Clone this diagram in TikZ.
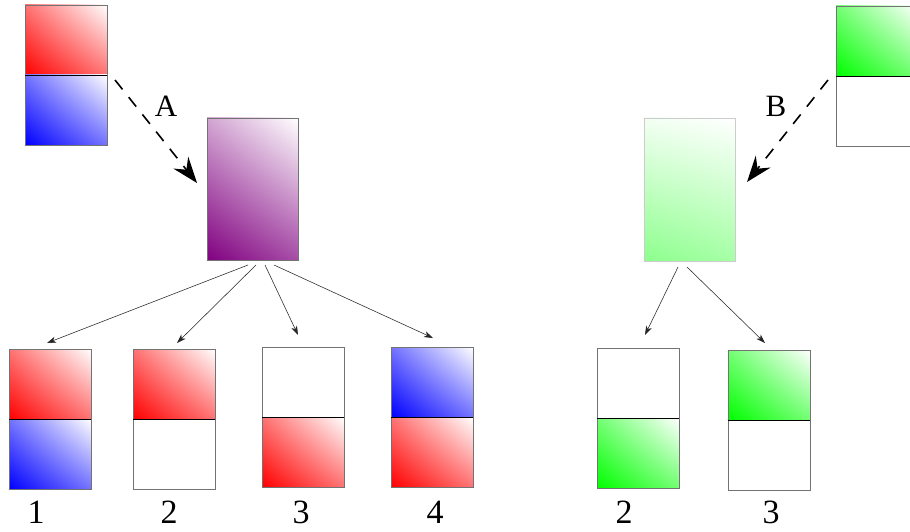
\documentclass[tikz,border=0pt]{standalone}
\usepackage{fontspec}
\setmainfont{Liberation Serif}
\usetikzlibrary{arrows.meta,shadings}
\definecolor{mypurple}{RGB}{128,0,128}
\begin{document}
\begin{tikzpicture}[x=1pt,y=-1pt,
  sq/.style={draw=black!55, line width=0.7pt, minimum width=82pt, minimum height=70pt,
             inner sep=0pt, outer sep=0pt, anchor=north west},
  redsq/.style={sq, lower left=red, upper right=white, upper left=red!55!white, lower right=red!55!white},
  bluesq/.style={sq, lower left=blue, upper right=white, upper left=blue!55!white, lower right=blue!55!white},
  greensq/.style={sq, lower left=green, upper right=white, upper left=green!55!white, lower right=green!55!white},
  whitesq/.style={sq, fill=white},
  bigbox/.style={line width=0.7pt, minimum width=91pt, minimum height=142pt,
             inner sep=0pt, outer sep=0pt, anchor=north west},
  divider/.style={line width=0.8pt, black},
  thinarrow/.style={line width=0.55pt, black!85, -{Stealth[length=9pt,width=6pt,inset=2.5pt]}},
  dasharrow/.style={line width=1.6pt, black, dash pattern=on 12pt off 10pt,
             -{Stealth[length=26pt,width=19pt,inset=9pt]}},
  lab/.style={font=\fontsize{31}{32}\selectfont},
  num/.style={font=\fontsize{34}{35}\selectfont}
]
\clip (0,0) rectangle (910,532);
\fill[white] (0,0) rectangle (910,532);

% source A
\node[redsq]  (sAt) at (25,5) {};
\node[bluesq] (sAb) at (25,75) {};
\draw[divider] (sAt.south west) -- (sAt.south east);

% purple box
\node[bigbox, draw=black!55, lower left=mypurple, upper right=white,
      upper left=mypurple!35!white, lower right=mypurple!70!white] (pA) at (207,118) {};

% source B
\node[greensq] (sBt) at (836,6) {};
\node[whitesq] (sBb) at (836,76) {};
\draw[divider] (sBt.south west) -- (sBt.south east);

% light green box
\node[bigbox, minimum height=143pt, draw=black!20, lower left=green!45!white, upper right=white,
      upper left=green!5!white, lower right=green!35!white] (gB) at (644,118) {};

% bottom left boxes
\node[redsq]   (b1t) at (9,349) {};
\node[bluesq]  (b1b) at (9,419) {};
\draw[divider] (b1t.south west) -- (b1t.south east);
\node[redsq]   (b2t) at (133,349) {};
\node[whitesq] (b2b) at (133,419) {};
\draw[divider] (b2t.south west) -- (b2t.south east);
\node[whitesq] (b3t) at (262,347) {};
\node[redsq]   (b3b) at (262,417) {};
\draw[divider] (b3t.south west) -- (b3t.south east);
\node[bluesq]  (b4t) at (391,347) {};
\node[redsq]   (b4b) at (391,417) {};
\draw[divider] (b4t.south west) -- (b4t.south east);

% bottom right boxes
\node[whitesq] (c2t) at (597,348) {};
\node[greensq] (c2b) at (597,418) {};
\draw[divider] (c2t.south west) -- (c2t.south east);
\node[greensq] (c3t) at (728,350) {};
\node[whitesq] (c3b) at (728,420) {};
\draw[divider] (c3t.south west) -- (c3t.south east);

% dashed arrows
\draw[dasharrow] ([xshift=8pt,yshift=-5pt]sAb.north east) -- ([xshift=-10pt,yshift=-65pt]pA.north west);
\node[lab] (labA) at (166,106) {A};
\draw[dasharrow] ([xshift=-8pt,yshift=-4pt]sBb.north west) -- ([xshift=12pt,yshift=-64pt]gB.north east);
\node[lab] (labB) at (776,106) {B};

% thin arrows
\draw[thinarrow] ([xshift=-4.5pt,yshift=-5pt]pA.south) -- ([xshift=-3pt,yshift=6pt]b1t.north);
\draw[thinarrow] ([xshift=3.5pt,yshift=-5pt]pA.south) -- ([xshift=3pt,yshift=6pt]b2t.north);
\draw[thinarrow] ([xshift=12.5pt,yshift=-5pt]pA.south) -- ([xshift=-5pt,yshift=12pt]b3t.north);
\draw[thinarrow] ([xshift=21.5pt,yshift=-5pt]pA.south) -- ([xshift=1pt,yshift=9pt]b4t.north);
\draw[thinarrow] ([xshift=-11.5pt,yshift=-6pt]gB.south) -- ([xshift=7pt,yshift=13pt]c2t.north);
\draw[thinarrow] ([xshift=-2.5pt,yshift=-6pt]gB.south) -- ([xshift=-4pt,yshift=7pt]c3t.north);

% number labels
\node[num] (n1) at (36,512) {1};
\node[num] (n2) at (169,512) {2};
\node[num] (n3) at (301,512) {3};
\node[num] (n4) at (435,512) {4};
\node[num] (m2) at (624,512) {2};
\node[num] (m3) at (771,512) {3};
\end{tikzpicture}
\end{document}
